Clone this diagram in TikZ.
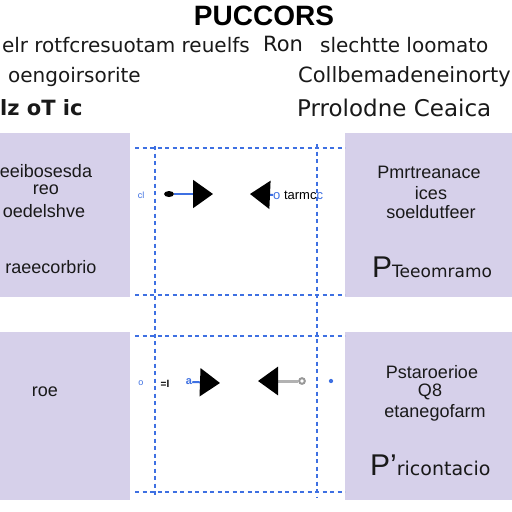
\documentclass[tikz,border=0pt]{standalone}
\usepackage{fontspec}
\setmainfont{Liberation Sans}
\newfontfamily\headfont{DejaVu Sans}
\usepackage{xcolor}
\usepackage{tikz}
\usetikzlibrary{arrows.meta,positioning,shapes.geometric}
\definecolor{panelbg}{RGB}{214,208,234}
\definecolor{gridblue}{RGB}{62,112,226}

\begin{document}
\begin{tikzpicture}[x=1pt, y=-1pt,
      panel/.style={fill=panelbg, inner sep=0pt, outer sep=0pt},
      txt/.style={inner sep=0pt, font=\fontsize{18}{20}\selectfont, text=black!90},
      head/.style={inner sep=0pt, font=\headfont\fontsize{20}{22}\selectfont, text=black!90},
      grid/.style={gridblue, line width=1.5pt, dash pattern=on 4pt off 3.5pt},
      tiny/.style={inner sep=0pt, font=\fontsize{9}{10}\selectfont, text=gridblue},
      arr/.style={-{Triangle[length=20pt, width=28pt, black]}, line width=2pt, gridblue},
      arrg/.style={-{Triangle[length=20pt, width=28pt, black]}, line width=3pt, gray!60}
  ]
    \useasboundingbox (0,0) rectangle (512,512);
    \fill[white] (0,0) rectangle (512,512);

    % header
    \node[inner sep=0pt, font=\fontsize{28}{30}\selectfont\bfseries] (title) at (264,16) {PUCCORS};
    \node[head, anchor=east] (h1) at (250,45) {elr rotfcresuotam reuelfs};
    \node[head, font=\headfont\fontsize{21}{23}\selectfont] (h2) at (283,44) {Ron};
    \node[head, anchor=west] (h3) at (320,45) {slechtte loomato};
    \node[head, anchor=west] (h4) at (8,77) {oengoirsorite};
    \node[head, anchor=west, font=\headfont\fontsize{21}{23}\selectfont] (h5) at (298,77) {Collbemadeneinorty};
    \node[head, anchor=west, font=\headfont\bfseries\fontsize{21}{24}\selectfont] (h6) at (0,108) {lz oT ic};
    \node[head, anchor=west, font=\headfont\fontsize{23}{25}\selectfont] (h7) at (297,108) {Prrolodne Ceaica};

    % panels
    \node[panel, minimum width=130pt, minimum height=164pt] (tl) at (65,215) {};
    \node[panel, minimum width=168pt, minimum height=164pt] (tr) at (429,215) {};
    \node[panel, minimum width=130pt, minimum height=168pt] (bl) at (65,416) {};
    \node[panel, minimum width=168pt, minimum height=168pt] (br) at (429,416) {};

    \node[txt] (tl1) at (46,171) {eeibosesda};
    \node[txt] (tl2) at (46,190) {reo};
    \node[txt] (tl3) at (44,211) {oedelshve};
    \node[txt] (tl4) at (51,267) {raeecorbrio};

    \node[txt] (tr1) at (429,172) {Pmrtreanace};
    \node[txt] (tr2) at (431,193) {ices};
    \node[txt] (tr3) at (431,212) {soeldutfeer};
    \node[txt, anchor=west] (tr4) at (372,267) {\fontsize{30}{32}\selectfont P\headfont\fontsize{17}{20}\selectfont Teeomramo};

    \node[txt] (bl1) at (45,392) {roe};

    \node[txt] (br1) at (432,372) {Pstaroerioe};
    \node[txt] (br2) at (430,392) {Q8};
    \node[txt] (br3) at (435,413) {etanegofarm};
    \node[txt, anchor=west] (br4) at (370,465) {\fontsize{30}{32}\selectfont P’\headfont\fontsize{19}{20}\selectfont ricontacio};

    % dashed frame
    \draw[grid] (135,148) -- (345,148);
    \draw[grid] (135,295) -- (345,295);
    \draw[grid] (135,336) -- (345,336);
    \draw[grid] (135,492) -- (345,492);
    \draw[grid] (155,146) -- (155,498);
    \draw[grid] (317,144) -- (317,498);

    % top arrows
    \node[tiny] (cl) at (141,195) {cl};
    \node[ellipse, fill=black, minimum width=10pt, minimum height=6pt, inner sep=0pt] (d1) at (169,194) {};
    \coordinate (t1) at (213,194);
    \draw[arr] (d1) -- (t1);
    \node[inner sep=0pt, anchor=west, font=\fontsize{13}{14}\selectfont] (lab1) at (273,195) {\textcolor{gridblue}{o} tarmc\textcolor{gridblue}{c}};
    \coordinate (t2) at (250,194);
    \draw[arr] (lab1.west) -- (t2);

    % bottom arrows
    \node[tiny] (o1) at (141,383) {o};
    \node[inner sep=0pt, font=\fontsize{10}{11}\selectfont\bfseries] (m1) at (165,384) {=l};
    \node[tiny, font=\fontsize{11}{12}\selectfont\bfseries] (q1) at (189,382) {a};
    \coordinate (t3) at (220,383);
    \draw[arr] (q1.east) -- (t3);
    \node[circle, draw=gray!80, line width=2pt, inner sep=2pt] (c2) at (302,381) {};
    \coordinate (t4) at (258,381);
    \draw[arrg] (c2) -- (t4);
    \node[circle, fill=gridblue, inner sep=1.5pt] (d2) at (331,381) {};
  \end{tikzpicture}
\end{document}
